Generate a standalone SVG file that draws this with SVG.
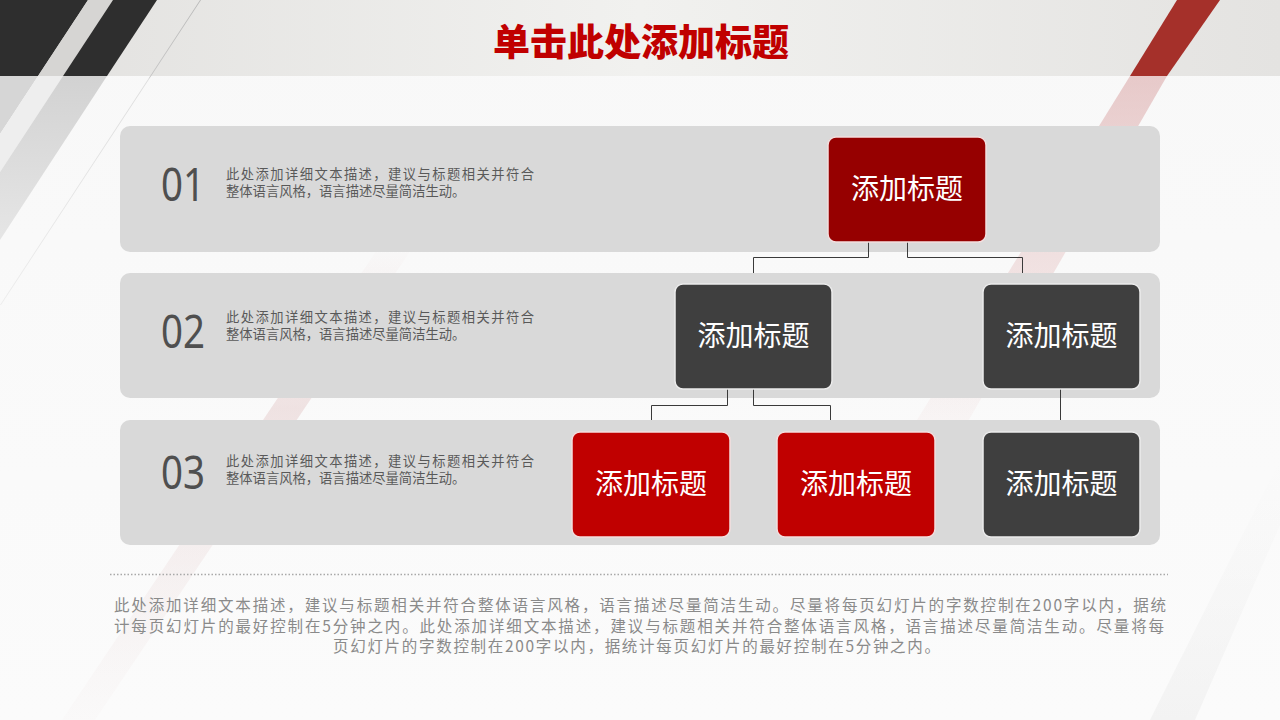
<svg xmlns="http://www.w3.org/2000/svg" width="1280" height="720" viewBox="0 0 1280 720">
<defs>
<style>
.panel{fill:#d9d9d9;}
.num{font-family:"Noto Sans","Liberation Sans",sans-serif;font-weight:400;font-size:46px;fill:#4f4f4f;}
.desc{font-family:"Noto Sans CJK SC",sans-serif;font-size:13.3px;fill:#595959;}
.nodetext{font-family:"Noto Sans CJK SC",sans-serif;font-size:28px;fill:#ffffff;text-anchor:middle;}
.red{fill:#c00000;stroke:#f3dede;stroke-width:1.5;}
.dred{fill:#960000;stroke:#f3dede;stroke-width:1.5;}
.gray{fill:#3f3f3f;stroke:#ececec;stroke-width:1.5;}
.conn{fill:none;stroke:#3a3a3a;stroke-width:1;}
.foot{font-family:"Noto Sans CJK SC",sans-serif;font-size:15.5px;fill:#8a8a8a;}
</style>
<linearGradient id="band" x1="0" y1="0" x2="1" y2="0">
<stop offset="0" stop-color="#e2e1df"/>
<stop offset="0.5" stop-color="#f1f1ef"/>
<stop offset="1" stop-color="#e4e3e1"/>
</linearGradient>
<linearGradient id="bg" x1="0" y1="0" x2="0" y2="1">
<stop offset="0" stop-color="#f8f8f8"/>
<stop offset="1" stop-color="#fbfbfb"/>
</linearGradient>
<linearGradient id="pinkTop" x1="0" y1="76" x2="0" y2="480" gradientUnits="userSpaceOnUse">
<stop offset="0" stop-color="#d9a3a3" stop-opacity="0.55"/>
<stop offset="0.5" stop-color="#e2b8b8" stop-opacity="0.35"/>
<stop offset="1" stop-color="#e8c8c8" stop-opacity="0"/>
</linearGradient>
<linearGradient id="pinkBot" x1="0" y1="240" x2="0" y2="720" gradientUnits="userSpaceOnUse">
<stop offset="0" stop-color="#e4caca" stop-opacity="0"/>
<stop offset="0.35" stop-color="#e4caca" stop-opacity="0.5"/>
<stop offset="0.65" stop-color="#e8d4d4" stop-opacity="0.3"/>
<stop offset="1" stop-color="#ece0e0" stop-opacity="0.08"/>
</linearGradient>
<linearGradient id="grayFade" x1="0" y1="76" x2="0" y2="260" gradientUnits="userSpaceOnUse">
<stop offset="0" stop-color="#d2d2d2"/>
<stop offset="1" stop-color="#e8e8e8"/>
</linearGradient>
<linearGradient id="brFade" x1="0" y1="460" x2="0" y2="720" gradientUnits="userSpaceOnUse">
<stop offset="0" stop-color="#ebebeb" stop-opacity="0"/>
<stop offset="1" stop-color="#ebebeb" stop-opacity="0.5"/>
</linearGradient>
<linearGradient id="thin" x1="0" y1="0" x2="0" y2="305" gradientUnits="userSpaceOnUse">
<stop offset="0" stop-color="#b8b8b8"/>
<stop offset="0.25" stop-color="#c4c4c4"/>
<stop offset="0.26" stop-color="#dcdcdc"/>
<stop offset="1" stop-color="#ececec"/>
</linearGradient>
</defs>

<g id="background">
<rect x="0" y="0" width="1280" height="720" fill="url(#bg)"/>
<rect x="0" y="0" width="1280" height="76" fill="url(#band)"/>
<polygon points="0,76 38,76 0,134" fill="#d6d6d6"/>
<polygon points="38,76 63,76 0,172 0,134" fill="#eeeeee"/>
<polygon points="63,76 107,76 0,240 0,172" fill="url(#grayFade)"/>
<polygon points="0,0 88,0 38,76 0,76" fill="#2e2e2e"/>
<polygon points="88,0 113,0 63,76 38,76" fill="#d6d5d3"/>
<polygon points="113,0 157,0 107,76 63,76" fill="#2e2e2e"/>
<polygon points="200,0 201,0 1,305 0,305" fill="url(#thin)"/>
<polygon points="1130,76 1167,76 940,470 886,470" fill="url(#pinkTop)"/>
<polygon points="1177,0 1220,0 1167,76 1130,76" fill="#a5302a"/>
<polygon points="377,250 411,250 95,720 62,720" fill="url(#pinkBot)"/>
<polygon points="1280,460 1280,525 1195,720 1150,720" fill="url(#brFade)"/>
</g>

<g id="title">
<text x="641" y="56" text-anchor="middle" font-family="'Noto Sans CJK SC',sans-serif" font-weight="900" font-size="37" fill="#c00000">单击此处添加标题</text>
</g>

<g id="row1">
<rect class="panel" x="120" y="126" width="1040" height="126" rx="10"/>
<text class="num" x="161" y="201" textLength="44" lengthAdjust="spacingAndGlyphs">01</text>
<text class="desc" x="226" y="179" textLength="308">此处添加详细文本描述，建议与标题相关并符合</text>
<text class="desc" x="226" y="196">整体语言风格，语言描述尽量简洁生动。</text>
</g>
<g id="row2">
<rect class="panel" x="120" y="273" width="1040" height="125" rx="10"/>
<text class="num" x="161" y="348" textLength="44" lengthAdjust="spacingAndGlyphs">02</text>
<text class="desc" x="226" y="322" textLength="308">此处添加详细文本描述，建议与标题相关并符合</text>
<text class="desc" x="226" y="339">整体语言风格，语言描述尽量简洁生动。</text>
</g>
<g id="row3">
<rect class="panel" x="120" y="420" width="1040" height="125" rx="10"/>
<text class="num" x="161" y="489" textLength="44" lengthAdjust="spacingAndGlyphs">03</text>
<text class="desc" x="226" y="466" textLength="308">此处添加详细文本描述，建议与标题相关并符合</text>
<text class="desc" x="226" y="483">整体语言风格，语言描述尽量简洁生动。</text>
</g>

<g id="connectors">
<path class="conn" d="M868.5 242 V257.5 H753.5 V273"/>
<path class="conn" d="M907.5 242 V257.5 H1022.5 V273"/>
<path class="conn" d="M727.5 389 V405.5 H651.5 V420"/>
<path class="conn" d="M753.5 389 V405.5 H830.5 V420"/>
<path class="conn" d="M1060.5 389 V420"/>
</g>

<g id="node-top">
<rect class="dred" x="828" y="137" width="158" height="105" rx="8"/>
<text class="nodetext" x="907" y="199">添加标题</text>
</g>
<g id="node-2a">
<rect class="gray" x="675" y="284" width="157" height="105" rx="8"/>
<text class="nodetext" x="753.5" y="346">添加标题</text>
</g>
<g id="node-2b">
<rect class="gray" x="983" y="284" width="157" height="105" rx="8"/>
<text class="nodetext" x="1061.5" y="346">添加标题</text>
</g>
<g id="node-3a">
<rect class="red" x="572" y="432" width="158" height="105" rx="8"/>
<text class="nodetext" x="651" y="494">添加标题</text>
</g>
<g id="node-3b">
<rect class="red" x="777" y="432" width="158" height="105" rx="8"/>
<text class="nodetext" x="856" y="494">添加标题</text>
</g>
<g id="node-3c">
<rect class="gray" x="983" y="432" width="157" height="105" rx="8"/>
<text class="nodetext" x="1061.5" y="494">添加标题</text>
</g>

<g id="footer">
<line x1="110" y1="574.5" x2="1168" y2="574.5" stroke="#a8a8a8" stroke-width="1.5" stroke-dasharray="1.5 2"/>
<text class="foot" x="114" y="611" textLength="1052">此处添加详细文本描述，建议与标题相关并符合整体语言风格，语言描述尽量简洁生动。尽量将每页幻灯片的字数控制在200字以内，据统</text>
<text class="foot" x="114" y="631.5" textLength="1050">计每页幻灯片的最好控制在5分钟之内。此处添加详细文本描述，建议与标题相关并符合整体语言风格，语言描述尽量简洁生动。尽量将每</text>
<text class="foot" x="333" y="652" textLength="607">页幻灯片的字数控制在200字以内，据统计每页幻灯片的最好控制在5分钟之内。</text>
</g>
</svg>
